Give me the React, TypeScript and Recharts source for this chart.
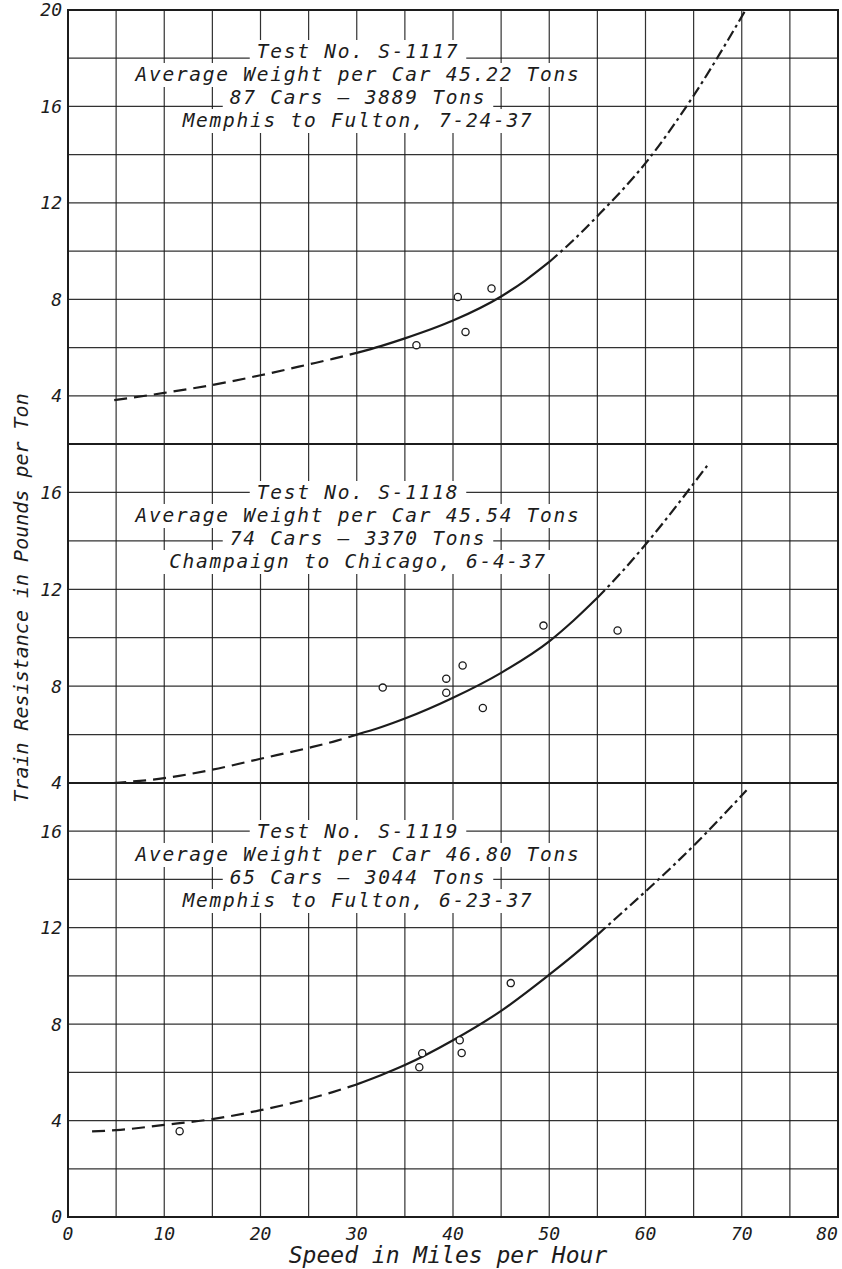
import React from 'react'
import { ComposedChart, Line, Scatter, XAxis, YAxis, CartesianGrid, ReferenceArea } from 'recharts'

// grid ticks
const speedTicks = [0, 5, 10, 15, 20, 25, 30, 35, 40, 45, 50, 55, 60, 65, 70, 75, 80]
const topTicks = [2, 4, 6, 8, 10, 12, 14, 16, 18, 20]
const midTicks = [4, 6, 8, 10, 12, 14, 16, 18]
const lowTicks = [0, 2, 4, 6, 8, 10, 12, 14, 16, 18]

// Test S-1117
const s1117Speed = [4.8, 10, 15, 20, 25, 27.5, 30, 32.5, 35, 40, 45, 47.5, 50, 52.5, 55, 60, 65, 70.4]
const s1117Fit = [3.82, 4.12, 4.45, 4.85, 5.3, 5.53, 5.78, 6.06, 6.38, 7.12, 8.12, 8.78, 9.55, 10.45, 11.45, 13.65, 16.45, 20]
const s1117ObsSpeed = [36.2, 40.5, 41.3, 44.0]
const s1117Obs = [6.1, 8.1, 6.65, 8.45]
const s1117Notes = ['Test No. S-1117', 'Average Weight per Car 45.22 Tons', '87 Cars — 3889 Tons', 'Memphis to Fulton, 7-24-37']

// Test S-1118
const s1118Speed = [4.7, 10, 15, 20, 25, 27.5, 30, 32.5, 35, 40, 45, 50, 52.5, 55, 57.5, 60, 66.4]
const s1118Fit = [4.0, 4.2, 4.55, 5.0, 5.45, 5.7, 6.0, 6.3, 6.66, 7.52, 8.55, 9.85, 10.7, 11.65, 12.7, 13.85, 17.1]
const s1118ObsSpeed = [32.7, 39.3, 39.3, 41.0, 43.1, 49.4, 57.1]
const s1118Obs = [7.94, 8.31, 7.73, 8.85, 7.1, 10.5, 10.3]
const s1118Notes = ['Test No. S-1118', 'Average Weight per Car 45.54 Tons', '74 Cars — 3370 Tons', 'Champaign to Chicago, 6-4-37']

// Test S-1119
const s1119Speed = [2.5, 5, 10, 15, 20, 25, 27.5, 30, 32.5, 35, 40, 45, 50, 52.5, 55, 57.5, 60, 65, 70.5]
const s1119Fit = [3.55, 3.6, 3.82, 4.06, 4.43, 4.9, 5.18, 5.5, 5.88, 6.3, 7.33, 8.55, 10.05, 10.85, 11.7, 12.6, 13.5, 15.4, 17.7]
const s1119ObsSpeed = [11.6, 36.5, 36.8, 40.7, 40.9, 46.0]
const s1119Obs = [3.56, 6.21, 6.79, 7.33, 6.8, 9.7]
const s1119Notes = ['Test No. S-1119', 'Average Weight per Car 46.80 Tons', '65 Cars — 3044 Tons', 'Memphis to Fulton, 6-23-37']

const INK = '#1c1c1c'
const FONT = '"DejaVu Sans Mono", monospace'

const tickStyle = { fontSize: 18, fontStyle: 'italic', fill: INK, fontFamily: FONT }

function Ring(props: any) {
  if (props.cx == null || props.cy == null) return null
  return <circle cx={props.cx} cy={props.cy} r={3.6} fill="#fff" stroke={INK} strokeWidth={1.3} />
}

function SpeedTick(props: any) {
  const { x, y, payload } = props
  const v = payload.value
  if (v % 10 !== 0) return null
  const dx = v === 80 ? -11 : 0
  return (
    <text x={x + dx} y={y} dy="0.71em" textAnchor="middle" fontSize={18} fontStyle="italic" fontFamily={FONT} fill={INK}>
      {v}
    </text>
  )
}

function buildRows(speed: number[], fit: number[], b1: number, b2: number) {
  return speed.map((s, i) => ({
    speed: s,
    dash: s <= b1 ? fit[i] : null,
    solid: s >= b1 && s <= b2 ? fit[i] : null,
    dashdot: s >= b2 ? fit[i] : null,
  }))
}

interface PanelProps {
  top: number
  height: number
  marginBottom: number
  domain: [number, number]
  ticks: number[]
  speed: number[]
  fit: number[]
  breaks: [number, number]
  obsSpeed: number[]
  obs: number[]
  showX?: boolean
}

function Panel({ top, height, marginBottom, domain, ticks, speed, fit, breaks, obsSpeed, obs, showX }: PanelProps) {
  const rows = buildRows(speed, fit, breaks[0], breaks[1])
  const points = obsSpeed.map((s, i) => ({ speed: s, obs: obs[i] }))
  return (
    <div style={{ position: 'absolute', left: 0, top }}>
      <ComposedChart width={842} height={height} data={rows} margin={{ top: 10, right: 4, bottom: marginBottom, left: 0 }}>
        <CartesianGrid stroke={INK} strokeWidth={1.2} strokeOpacity={0.9} />
        <XAxis
          dataKey="speed"
          type="number"
          domain={[0, 80]}
          ticks={speedTicks}
          hide={!showX}
          height={52}
          axisLine={false}
          tickLine={false}
          tickSize={0}
          tickMargin={10}
          tick={<SpeedTick />}
          interval={0}
        />
        <YAxis
          type="number"
          domain={domain}
          ticks={ticks}
          width={68}
          axisLine={false}
          tickLine={false}
          tickSize={0}
          tickMargin={6}
          tick={tickStyle}
          tickFormatter={(v: number) => (v % 4 === 0 ? String(v) : '')}
          interval={0}
          allowDataOverflow
        />
        <ReferenceArea x1={0} x2={80} y1={domain[0]} y2={domain[1]} fill="none" stroke={INK} strokeWidth={2} ifOverflow="visible" />
        <Line type="monotone" dataKey="dash" stroke={INK} strokeWidth={2.2} strokeDasharray="13 7" dot={false} activeDot={false} isAnimationActive={false} />
        <Line type="monotone" dataKey="solid" stroke={INK} strokeWidth={2.2} dot={false} activeDot={false} isAnimationActive={false} />
        <Line type="monotone" dataKey="dashdot" stroke={INK} strokeWidth={2.2} strokeDasharray="11 4 3 4" dot={false} activeDot={false} isAnimationActive={false} />
        <Scatter data={points} dataKey="obs" shape={Ring} isAnimationActive={false} />
      </ComposedChart>
    </div>
  )
}

function Notes({ lines, x, y }: { lines: string[]; x: number; y: number }) {
  const lh = 23
  const cw = 13.5
  return (
    <g>
      {lines.map((t, i) => {
        const w = t.length * cw + 14
        return <rect key={'r' + i} x={x - w / 2} y={y + i * lh - 18} width={w} height={lh + 1} fill="#fff" />
      })}
      {lines.map((t, i) => (
        <text key={'t' + i} x={x} y={y + i * lh} textAnchor="middle" fontSize={19.5} letterSpacing={1.75} fontStyle="italic" fontFamily={FONT} fill={INK}>
          {t}
        </text>
      ))}
    </g>
  )
}

export default function App() {
  return (
    <div style={{ position: 'relative', width: 842, height: 1269, background: '#fff', overflow: 'hidden' }}>
      <style>{'body{margin:0}'}</style>
      <Panel top={0} height={450} marginBottom={6} domain={[2, 20]} ticks={topTicks}
        speed={s1117Speed} fit={s1117Fit} breaks={[30, 50]} obsSpeed={s1117ObsSpeed} obs={s1117Obs} />
      <Panel top={434} height={361} marginBottom={12} domain={[4, 18]} ticks={midTicks}
        speed={s1118Speed} fit={s1118Fit} breaks={[30, 55]} obsSpeed={s1118ObsSpeed} obs={s1118Obs} />
      <Panel top={773} height={496} marginBottom={0} domain={[0, 18]} ticks={lowTicks}
        speed={s1119Speed} fit={s1119Fit} breaks={[30, 55]} obsSpeed={s1119ObsSpeed} obs={s1119Obs} showX />
      <svg width={842} height={1269} style={{ position: 'absolute', left: 0, top: 0, pointerEvents: 'none' }}>
        <Notes lines={s1117Notes} x={358} y={58} />
        <Notes lines={s1118Notes} x={358} y={499} />
        <Notes lines={s1119Notes} x={358} y={838} />
        <text transform="translate(28,598) rotate(-90)" textAnchor="middle" fontSize={20} fontStyle="italic" fontFamily={FONT} fill={INK}>
          Train Resistance in Pounds per Ton
        </text>
        <text x={448} y={1263} textAnchor="middle" fontSize={23} fontStyle="italic" fontFamily={FONT} fill={INK}>
          Speed in Miles per Hour
        </text>
      </svg>
    </div>
  )
}
